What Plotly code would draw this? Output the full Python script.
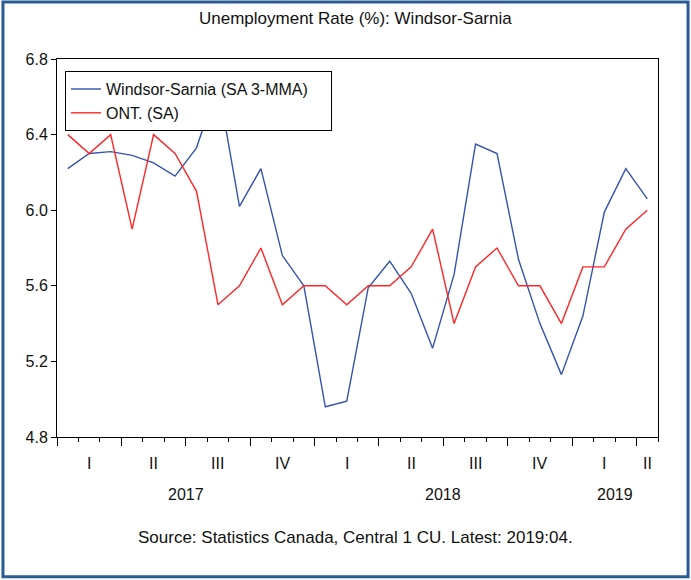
import plotly.graph_objects as go

# Monthly data, Jan 2017 .. Apr 2019
months = list(range(28))
windsor = [6.22, 6.30, 6.31, 6.29, 6.25, 6.18, 6.33, 6.67, 6.02, 6.22,
           5.76, 5.60, 4.96, 4.99, 5.59, 5.73, 5.56, 5.27, 5.66, 6.35,
           6.30, 5.74, 5.40, 5.13, 5.44, 5.99, 6.22, 6.06]
ontario = [6.4, 6.3, 6.4, 5.9, 6.4, 6.3, 6.1, 5.5, 5.6, 5.8,
           5.5, 5.6, 5.6, 5.5, 5.6, 5.6, 5.7, 5.9, 5.4, 5.7,
           5.8, 5.6, 5.6, 5.4, 5.7, 5.7, 5.9, 6.0]
quarter_labels = ["I", "II", "III", "IV", "I", "II", "III", "IV", "I", "II"]
quarter_pos = [1.5, 4.5, 7.5, 10.5, 13.5, 16.5, 19.5, 22.5, 25.5, 27.5]
year_labels = ["2017", "2018", "2019"]
year_pos = [6, 18, 26]
y_ticks = [4.8, 5.2, 5.6, 6.0, 6.4, 6.8]

FONT = "Liberation Sans, Arial, sans-serif"
xs = [m + 0.5 for m in months]

fig = go.Figure()
fig.add_trace(go.Scatter(x=xs, y=windsor, mode="lines",
                         name="Windsor-Sarnia (SA 3-MMA)\u00a0\u00a0\u00a0\u00a0",
                         line=dict(color="#3553B0", width=1.4)))
fig.add_trace(go.Scatter(x=xs, y=ontario, mode="lines", name="ONT. (SA)",
                         line=dict(color="#FF2626", width=1.4)))

annotations = []
for lab, p in zip(quarter_labels, quarter_pos):
    annotations.append(dict(x=p, y=-0.071, xref="x", yref="paper", text=lab, showarrow=False,
                            font=dict(size=16, color="#111"), yanchor="middle"))
for lab, p in zip(year_labels, year_pos):
    annotations.append(dict(x=p, y=-0.151, xref="x", yref="paper", text=lab, showarrow=False,
                            font=dict(size=16, color="#111"), yanchor="middle"))
annotations.append(dict(x=0.497, y=1.108, xref="paper", yref="paper",
                        text="Unemployment Rate (%): Windsor-Sarnia", showarrow=False,
                        font=dict(size=17, color="#111"), yanchor="middle"))
annotations.append(dict(x=0.497, y=-0.267, xref="paper", yref="paper",
                        text="Source: Statistics Canada, Central 1 CU. Latest: 2019:04.", showarrow=False,
                        font=dict(size=17, color="#111"), yanchor="middle"))

fig.update_layout(
    width=691, height=580,
    margin=dict(l=57, r=33, t=59, b=143),
    paper_bgcolor="white", plot_bgcolor="white",
    font=dict(family=FONT, size=16, color="#111"),
    showlegend=True,
    legend=dict(x=0.0133, y=0.968, xanchor="left", yanchor="top",
                bgcolor="white", bordercolor="black", borderwidth=1,
                font=dict(size=16), tracegroupgap=0),
    annotations=annotations,
    shapes=[dict(type="rect", xref="paper", yref="paper",
                 x0=-0.0899, x1=1.05, y0=-0.370, y1=1.151,
                 line=dict(color="#2B5A95", width=3), layer="below")],
    xaxis=dict(range=[0, 28], showgrid=False, zeroline=False,
               showline=True, linecolor="black", linewidth=1, mirror=True,
               tickmode="array", tickvals=[0, 3, 6, 9, 12, 15, 18, 21, 24, 27],
               ticks="outside", ticklen=8, tickcolor="black", showticklabels=False,
               minor=dict(tickmode="linear", tick0=0, dtick=1, ticks="outside",
                          ticklen=4, tickcolor="black", showgrid=False)),
    yaxis=dict(range=[4.8, 6.8], showgrid=False, zeroline=False,
               showline=True, linecolor="black", linewidth=1, mirror=True,
               tickmode="array", tickvals=y_ticks, ticktext=[f"{v:.1f}" for v in y_ticks],
               ticks="outside", ticklen=5, tickcolor="black",
               tickfont=dict(size=16)),
)

fig.write_html("out.html", config={"displayModeBar": False, "staticPlot": True},
               post_script="document.body.style.margin='0';document.body.style.overflow='hidden';")
